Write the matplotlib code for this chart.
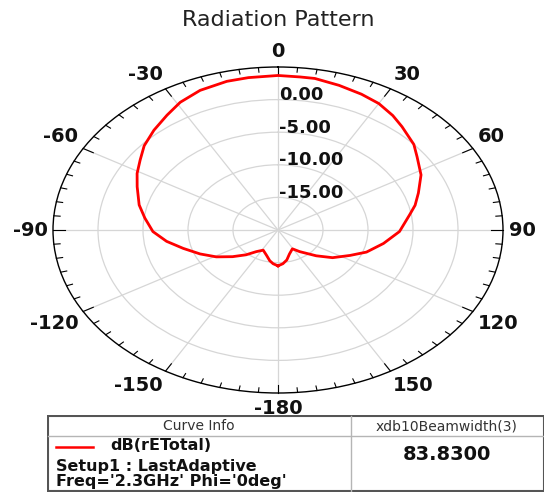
import numpy as np
import matplotlib
matplotlib.use("Agg")
import matplotlib.pyplot as plt
from matplotlib.patches import Rectangle

# far-field cut, theta measured clockwise from boresight (deg), total E-field gain (dB)
theta_deg = [-180, -174, -169, -162, -152, -144, -137, -129, -121, -113, -105, -98,
             -91, -83, -76, -67, -61, -55, -49, -42, -35, -29, -22, -14, -8, 0,
             6, 10, 17, 24, 30, 36, 41, 49, 54, 62, 70, 76, 81, 91, 100, 109, 116,
             125, 133, 144, 151, 161, 168, 174, 180]
gain_db = [-14.5, -14.8, -15.2, -15.9, -16.5, -15.9, -14.8, -13.5, -12.0, -10.6, -9.1, -7.5,
           -6.1, -5.1, -4.1, -3.0, -2.1, -1.3, -0.3, 0.6, 1.5, 2.4, 3.1, 3.5, 3.6, 3.7,
           3.6, 3.6, 3.2, 2.8, 2.4, 1.7, 1.0, 0.0, -0.9, -2.0, -3.4, -4.3, -5.2, -6.5, -8.1,
           -9.6, -11.1, -12.6, -14.2, -15.9, -16.7, -16.1, -15.3, -14.8, -14.5]

ring_levels = [-15, -10, -5, 0]
ring_labels = ["-15.00", "-10.00", "-5.00", "0.00"]
theta_ticks = [0, 30, 60, 90, 120, 150, 180, -150, -120, -90, -60, -30]
theta_labels = ["0", "30", "60", "90", "120", "150", "-180", "-150", "-120", "-90", "-60", "-30"]
r_min, r_max = -20, 5

curve_name = "dB(rETotal)"
setup_name = "Setup1 : LastAdaptive"
sweep_info = "Freq='2.3GHz' Phi='0deg'"
calc_name = "xdb10Beamwidth(3)"
beamwidth = 83.83

W, H = 548, 493
fig = plt.figure(figsize=(W / 100, H / 100), dpi=100)

ax = fig.add_axes([53 / W, 1 - 393 / H, 450 / W, 326 / H], projection="polar")
ax.set_aspect("auto")
ax.set_theta_zero_location("N")
ax.set_theta_direction(-1)
ax.set_ylim(r_min, r_max)

ax.set_xticks(np.deg2rad(np.arange(0, 360, 30)))
ax.set_xticklabels([])
ax.tick_params(axis="x", length=0)
ax.set_yticks(ring_levels)
ax.set_yticklabels([])
ax.tick_params(axis="y", length=0)
ax.grid(True, color="#d6d6d6", lw=0.9)
ax.spines["polar"].set_color("black")
ax.spines["polar"].set_linewidth(1.0)

# inward ticks on the rim: long every 30 deg, short every 5 deg
for a in range(0, 360, 5):
    tick_len = 1.3 if a % 30 == 0 else 0.7
    ax.plot([np.deg2rad(a)] * 2, [r_max, r_max - tick_len], color="black", lw=0.8,
            clip_on=False, zorder=4)

ax.plot(np.deg2rad(theta_deg), gain_db, color="#ff0000", lw=2.0, zorder=5)

for ang, lbl in zip(theta_ticks, theta_labels):
    s, c = np.sin(np.deg2rad(ang)), np.cos(np.deg2rad(ang))
    ha = "center" if abs(s) < 0.01 else ("left" if s > 0 else "right")
    va = "center" if abs(c) < 0.01 else ("bottom" if c > 0 else "top")
    ax.annotate(lbl, xy=(np.deg2rad(ang), r_max), xytext=(4 * s, 4 * c),
                textcoords="offset points", ha=ha, va=va, fontsize=14,
                fontweight="bold", color="#111111", annotation_clip=False)

for lev, lbl in zip(ring_levels, ring_labels):
    ax.annotate(lbl, xy=(0, lev), xytext=(0.5, 3.3), textcoords="offset points",
                ha="left", va="center", fontsize=13, fontweight="bold", color="#111111",
                zorder=6)

fig.text(278 / W, 1 - 20 / H, "Radiation Pattern", ha="center", va="center",
         fontsize=16, color="#222222")

# curve info table, laid out in pixel units
tab = fig.add_axes([47 / W, 1 - 492 / H, 497 / W, 77 / H])
tab.set_xlim(46.5, 543.5)
tab.set_ylim(492, 415)
tab.axis("off")
tab.add_patch(Rectangle((47, 416), 496, 75, fill=False, edgecolor="#555555", lw=1.5))
tab.plot([350, 350], [416, 491], color="#b5b5b5", lw=1.0)
tab.plot([47, 543], [436, 436], color="#b5b5b5", lw=1.0)
tab.text(198, 426.5, "Curve Info", ha="center", va="center", fontsize=10, color="#333333")
tab.text(446, 426.5, calc_name, ha="center", va="center", fontsize=10, color="#333333")
tab.plot([55, 92], [447, 447], color="#ff0000", lw=1.8)
tab.text(110, 446, curve_name, ha="left", va="center", fontsize=11.5, fontweight="bold",
         color="#111111")
tab.text(55, 474, setup_name + "\n" + sweep_info, ha="left", va="center", fontsize=11.5,
         fontweight="bold", color="#111111", linespacing=1.05)
tab.text(446, 455, f"{beamwidth:.4f}", ha="center", va="center", fontsize=14,
         fontweight="bold", color="#111111")

fig.savefig("out.png", dpi=100)
